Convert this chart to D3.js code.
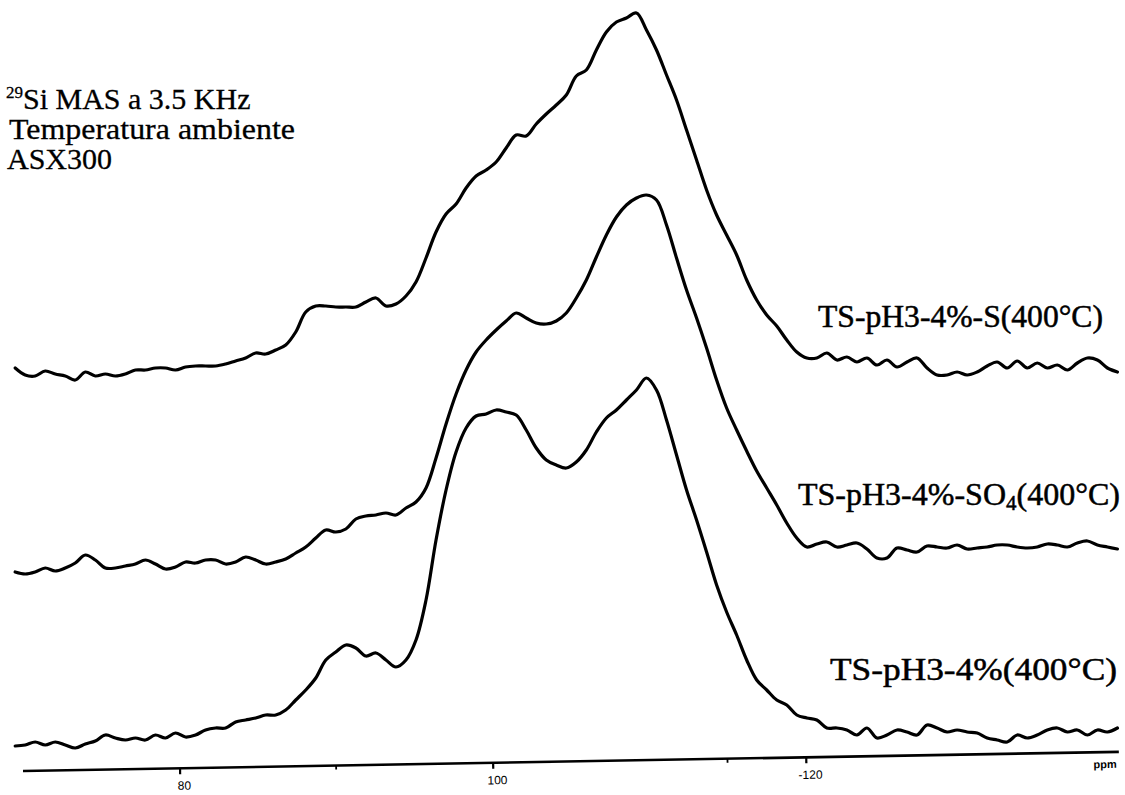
<!DOCTYPE html>
<html>
<head>
<meta charset="utf-8">
<script src="https://cdn.jsdelivr.net/npm/d3@7/dist/d3.min.js"></script>
<style>
  html, body { margin: 0; padding: 0; background: #fff; }
  svg { display: block; }
</style>
</head>
<body>
<svg id="chart" width="1125" height="795"></svg>
<script>
// 29Si MAS NMR spectra, sampled every 0.64 ppm from -69.5 ppm
const shiftStart = -69.5;
const shiftStep = -0.64;

// Intensities (arbitrary units, stacked traces share one vertical scale)
const sulfided = [
  412,405,404,409,406,404,400,408,404,406,
  404,406,410,410,412,412,410,413,414,414,
  414,416,419,422,427,426,430,435,448,468,
  474,474,473,473,473,478,482,474,476,484,
  498,522,548,566,576,592,604,610,618,632,
  645,644,656,666,675,685,704,710,730,748,
  758,762,767,750,730,705,680,650,620,590,
  565,545,525,500,480,465,454,440,428,422,
  422,427,420,423,418,422,415,420,413,418,
  422,412,405,405,408,405,408,414,418,412,
  419,412,417,412,415,410,417,422,420,412,
  408
];
const sulfated = [
  208,206,208,212,209,212,217,225,220,212,
  212,214,216,220,216,211,213,218,217,220,
  220,216,218,223,220,216,218,221,227,233,
  242,250,248,251,261,264,265,267,265,272,
  278,292,322,356,386,410,428,440,450,459,
  467,462,457,456,459,467,482,500,523,545,
  563,575,582,585,580,555,522,490,462,432,
  400,372,350,329,309,292,275,257,242,233,
  236,238,233,235,237,231,222,222,232,230,
  228,234,233,232,235,231,232,233,235,235,
  233,232,233,236,235,233,237,239,235,233,
  231
];
const parent = [
  34,35,38,35,38,35,32,36,39,45,
  42,40,42,40,45,42,47,43,45,50,
  52,52,58,60,62,65,65,70,80,90,
  102,120,128,135,132,124,127,120,113,120,
  140,180,240,290,328,352,364,366,370,368,
  365,350,332,320,315,312,318,330,348,362,
  370,380,390,402,390,360,325,290,260,228,
  195,168,145,120,100,90,80,75,65,62,
  60,52,52,50,45,52,42,45,50,48,
  45,55,52,48,50,48,47,42,40,38,
  45,42,45,50,52,48,50,45,50,48,
  52
];

const seriesNames = ["TS-pH3-4%-S(400°C)", "TS-pH3-4%-SO4(400°C)", "TS-pH3-4%(400°C)"];
const majorTicks = [-80, -100, -120];
const majorTickLabels = ["80", "100", "-120"];
const minorTicks = [-90, -115];
const headerLines = ["Si MAS a 3.5 KHz", "Temperatura ambiente", "ASX300"];

const svg = d3.select("#chart");
svg.append("rect").attr("width", 1125).attr("height", 795).attr("fill", "#fff");

const x = d3.scaleLinear().domain([-70, -140]).range([23, 1119]);
const y = d3.scaleLinear().domain([0, 780]).range([780, 0]);

const shifts = sulfided.map((_, i) => shiftStart + i * shiftStep);

const line = d3.line()
  .x(d => x(d[0]))
  .y(d => y(d[1]))
  .curve(d3.curveCatmullRom.alpha(0.5));

[sulfided, sulfated, parent].forEach(vals => {
  svg.append("path")
    .datum(vals.map((v, i) => [shifts[i], v]))
    .attr("d", line)
    .attr("fill", "none")
    .attr("stroke", "#000")
    .attr("stroke-width", 3.2)
    .attr("stroke-linejoin", "round")
    .attr("stroke-linecap", "round");
});

// chemical shift axis (slightly skewed baseline)
const axisG = svg.append("g")
  .attr("transform", "rotate(-1 23 771) translate(0 771)");

axisG.append("line")
  .attr("x1", x(-70)).attr("x2", x(-140))
  .attr("stroke", "#000").attr("stroke-width", 2.6);

const axis = d3.axisBottom(x)
  .tickValues(majorTicks)
  .tickFormat((d, i) => majorTickLabels[i])
  .tickSize(6)
  .tickPadding(7);

const ax = axisG.append("g").call(axis);
ax.select(".domain").remove();
ax.selectAll(".tick line").attr("stroke", "#000").attr("stroke-width", 2.2);
ax.selectAll(".tick text")
  .attr("font-family", "Liberation Sans, Arial, sans-serif")
  .attr("font-size", 12)
  .attr("fill", "#000")
  .attr("dx", 4);

axisG.selectAll(".minor")
  .data(minorTicks)
  .enter().append("line")
  .attr("class", "minor")
  .attr("x1", d => x(d)).attr("x2", d => x(d))
  .attr("y1", 0).attr("y2", 4)
  .attr("stroke", "#000").attr("stroke-width", 1.8);

axisG.append("text")
  .attr("x", 1105).attr("y", 16)
  .attr("text-anchor", "middle")
  .attr("font-family", "Liberation Sans, Arial, sans-serif")
  .attr("font-size", 11)
  .attr("font-weight", "bold")
  .text("ppm");

// header block
const serif = "Liberation Serif, Times New Roman, serif";
const head = svg.append("g")
  .attr("font-family", serif)
  .attr("font-size", 30)
  .attr("fill", "#000")
  .attr("stroke", "#000")
  .attr("stroke-width", 0.3);

const h1 = head.append("text").attr("x", 6).attr("y", 109);
h1.append("tspan").attr("font-size", 17).attr("dy", -11).text("29");
h1.append("tspan").attr("dy", 11).text(headerLines[0]);
head.append("text").attr("x", 9).attr("y", 139)
  .attr("textLength", 286).attr("lengthAdjust", "spacingAndGlyphs")
  .text(headerLines[1]);
head.append("text").attr("x", 7).attr("y", 169).text(headerLines[2]);

// trace labels
const labG = svg.append("g")
  .attr("font-family", serif)
  .attr("font-size", 31)
  .attr("fill", "#000")
  .attr("stroke", "#000")
  .attr("stroke-width", 0.5);

labG.append("text").attr("x", 818).attr("y", 327)
  .attr("textLength", 285).attr("lengthAdjust", "spacingAndGlyphs")
  .text(seriesNames[0]);

const t2 = labG.append("text").attr("x", 798).attr("y", 505).attr("font-size", 32);
t2.append("tspan").text("TS-pH3-4%-SO");
t2.append("tspan").attr("font-size", 21).attr("dy", 5).text("4");
t2.append("tspan").attr("dy", -5).text("(400°C)");

labG.append("text").attr("x", 830).attr("y", 680)
  .attr("textLength", 287).attr("lengthAdjust", "spacingAndGlyphs")
  .text(seriesNames[2]);
</script>
</body>
</html>
